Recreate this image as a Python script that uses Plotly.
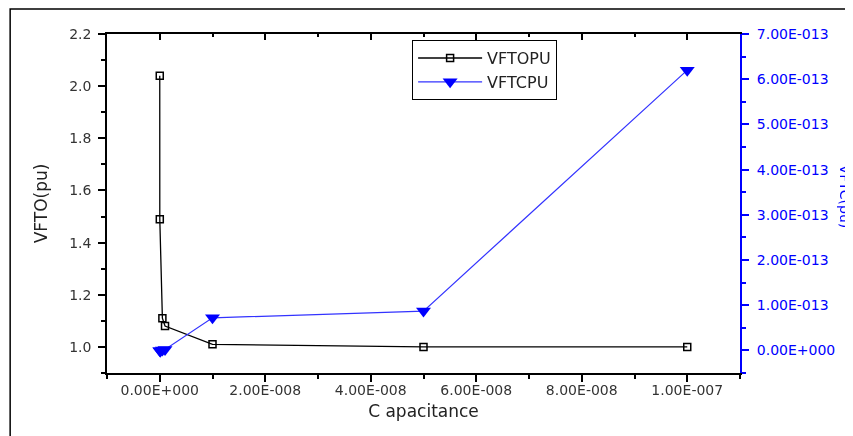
import plotly.graph_objects as go

# data
capacitance = [1e-12, 1e-11, 5e-10, 1e-9, 1e-8, 5e-8, 1e-7]
vfto_pu = [2.04, 1.49, 1.11, 1.08, 1.01, 1.0, 1.0]
vftc_cap = [0.0, 1e-10, 5e-10, 1e-9, 1e-8, 5e-8, 1e-7]
vftc_pu = [0.0, -0.02e-13, 0.01e-13, 0.02e-13, 0.72e-13, 0.87e-13, 6.2e-13]

x_ticks = [0, 2e-8, 4e-8, 6e-8, 8e-8, 1e-7]
x_labels = ["0.00E+000", "2.00E-008", "4.00E-008", "6.00E-008", "8.00E-008", "1.00E-007"]
x_minor = [-1e-8, 1e-8, 3e-8, 5e-8, 7e-8, 9e-8, 1.1e-7]
y_ticks = [1.0, 1.2, 1.4, 1.6, 1.8, 2.0, 2.2]
y_labels = ["1.0", "1.2", "1.4", "1.6", "1.8", "2.0", "2.2"]
y_minor = [0.9, 1.1, 1.3, 1.5, 1.7, 1.9, 2.1]
y2_ticks = [0, 1e-13, 2e-13, 3e-13, 4e-13, 5e-13, 6e-13, 7e-13]
y2_labels = ["0.00E+000", "1.00E-013", "2.00E-013", "3.00E-013",
             "4.00E-013", "5.00E-013", "6.00E-013", "7.00E-013"]
y2_minor = [-0.5e-13, 0.5e-13, 1.5e-13, 2.5e-13, 3.5e-13, 4.5e-13, 5.5e-13, 6.5e-13]

BLUE = "#0000ff"
FONT = "DejaVu Sans"

fig = go.Figure()

fig.add_trace(go.Scatter(
    x=capacitance, y=vfto_pu, name="VFTOPU", mode="lines+markers",
    line=dict(color="black", width=1.3),
    marker=dict(symbol="square-open", size=7, color="black", line=dict(width=1.5)),
))
fig.add_trace(go.Scatter(
    x=vftc_cap, y=vftc_pu, name="VFTCPU", mode="lines+markers", yaxis="y2",
    line=dict(color="#3333ff", width=1.2),
    marker=dict(symbol="triangle-down", size=13, color=BLUE),
))
# invisible copy to carry the inward top axis
fig.add_trace(go.Scatter(
    x=capacitance, y=vfto_pu, xaxis="x2", mode="markers", opacity=0,
    showlegend=False, hoverinfo="skip",
))

# the page body adds 8px, so margins are shifted by that much
fig.update_layout(
    width=853, height=436,
    margin=dict(l=99, r=121, t=26, b=71),
    plot_bgcolor="white", paper_bgcolor="white",
    font=dict(family=FONT, size=13, color="#333333"),
    showlegend=True,
    legend=dict(
        x=0.482, y=0.982, xanchor="left", yanchor="top",
        bordercolor="black", borderwidth=1, bgcolor="white",
        font=dict(size=16, color="#222222"), itemwidth=64,
        tracegroupgap=0,
    ),
    xaxis=dict(
        range=[-1e-8, 1.1e-7], tickvals=x_ticks, ticktext=x_labels,
        showgrid=False, zeroline=False, showline=True, linecolor="black", linewidth=1.5,
        ticks="outside", ticklen=7, tickwidth=1.5, tickcolor="black",
        minor=dict(tickvals=x_minor, ticks="outside", ticklen=4,
                   tickcolor="black", tickwidth=1.5),
        title=dict(text="C apacitance", font=dict(size=17, color="#222222"), standoff=9),
        tickfont=dict(size=14, color="#333333"), ticklabelstandoff=-4,
    ),
    xaxis2=dict(
        overlaying="x", side="top", range=[-1e-8, 1.1e-7], tickvals=x_ticks,
        showticklabels=False, showgrid=False, zeroline=False,
        showline=True, linecolor="black", linewidth=1.5,
        ticks="inside", ticklen=6, tickwidth=1.5, tickcolor="black",
        minor=dict(tickvals=x_minor, ticks="inside", ticklen=3,
                   tickcolor="black", tickwidth=1.5),
    ),
    yaxis=dict(
        range=[0.9, 2.2], tickvals=y_ticks, ticktext=y_labels,
        showgrid=False, zeroline=False, showline=True, linecolor="black", linewidth=1.5,
        ticks="outside", ticklen=7, tickwidth=1.5, tickcolor="black",
        minor=dict(tickvals=y_minor, ticks="outside", ticklen=4,
                   tickcolor="black", tickwidth=1.5),
        title=dict(text="VFTO(pu)", font=dict(size=17, color="#222222"), standoff=17),
        tickfont=dict(size=14, color="#333333"), ticklabelstandoff=4,
    ),
    yaxis2=dict(
        overlaying="y", side="right", range=[-0.5e-13, 7e-13],
        tickvals=y2_ticks, ticktext=y2_labels,
        showgrid=False, zeroline=False, showline=True, linecolor=BLUE, linewidth=2,
        ticks="outside", ticklen=7, tickwidth=1.5, tickcolor=BLUE,
        minor=dict(tickvals=y2_minor, ticks="outside", ticklen=4,
                   tickcolor=BLUE, tickwidth=1.5),
        tickfont=dict(size=14, color=BLUE), ticklabelstandoff=5,
    ),
    annotations=[dict(
        text="VFTC(pu)", textangle=90, xref="paper", yref="paper",
        x=1.166, y=0.52, xanchor="center", yanchor="middle", showarrow=False,
        font=dict(size=14, color=BLUE),
    )],
    shapes=[dict(
        type="rect", xref="paper", yref="paper", layer="below",
        x0=-0.153, x1=1.3, y0=-0.5, y1=1.074,
        line=dict(color="black", width=1.5), fillcolor="rgba(0,0,0,0)",
    )],
)

fig.write_html("out.html")
